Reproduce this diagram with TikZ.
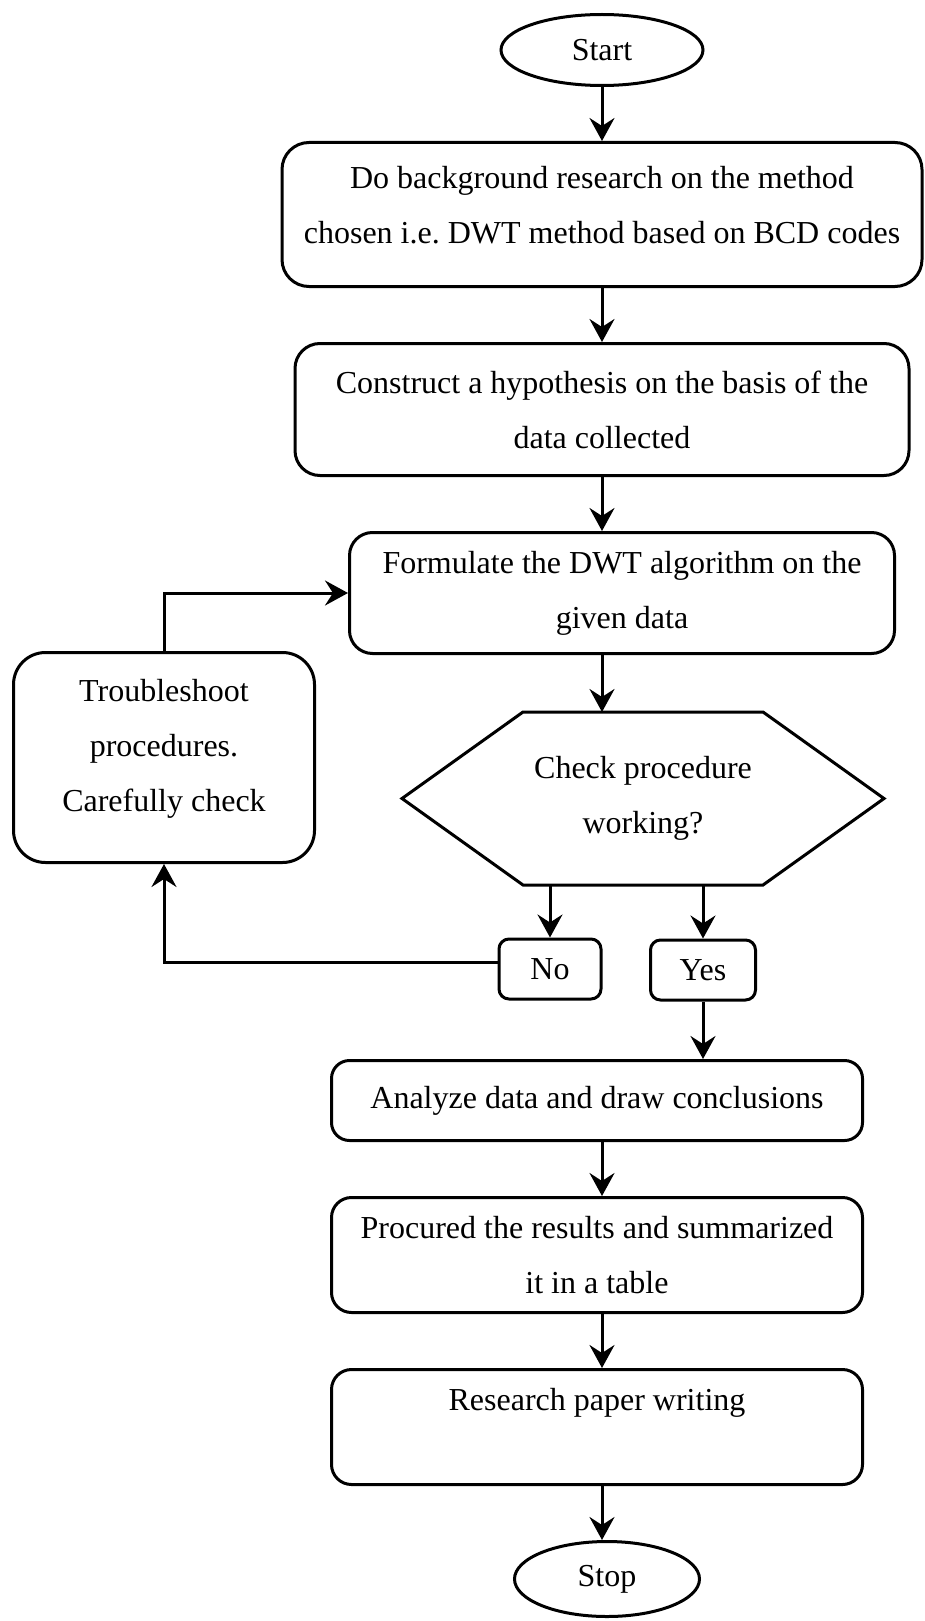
\documentclass[tikz,border=0pt]{standalone}
\usepackage{fontspec}
\setmainfont{Liberation Serif}
\usetikzlibrary{shapes.geometric,arrows.meta,positioning}

\begin{document}
\begin{tikzpicture}[
  x=1pt, y=1pt,
  node distance=54pt,
  line width=3pt,
  font=\fontsize{32}{55}\selectfont,
  block/.style={rectangle, draw, align=center, inner sep=0pt, minimum width=531pt, rounded corners=20pt},
  term/.style={ellipse, draw, inner sep=0pt, minimum width=185pt, minimum height=75pt},
  answer/.style={rectangle, draw, inner sep=0pt, rounded corners=10pt, minimum height=60pt},
  arrow/.style={-{Stealth[length=23pt, width=25pt, inset=8pt]}},
]
  \useasboundingbox (0,0) rectangle (925,-1621);

  % main column
  \node[term, minimum width=202pt, minimum height=71pt] (start) at (602,-50) {Start};
  \node[block, minimum width=640pt, minimum height=144pt, rounded corners=27pt, below=of start] (background) {Do background research on the method\\chosen i.e.\ DWT method based on BCD codes\\[-36pt]\mbox{}};
  \node[block, minimum width=614pt, minimum height=132pt, rounded corners=25pt, below=of background] (hypothesis) {Construct a hypothesis on the basis of the\\data collected};
  \node[block, minimum width=545pt, minimum height=121pt, rounded corners=23pt, below=of hypothesis, xshift=20pt] (formulate) {Formulate the DWT algorithm on the\\given data};
  \node[align=center, outer sep=0pt, minimum width=482pt, minimum height=173pt, below=57pt of formulate, xshift=21pt] (check) {Check procedure\\working?};
  \draw (check.west) -- ([xshift=121pt]check.north west) -- ([xshift=-121pt]check.north east)
    -- (check.east) -- ([xshift=-121pt]check.south east) -- ([xshift=121pt]check.south west) -- cycle;

  % answers and loop back
  \node[answer, minimum width=102pt] (no) at (550,-969) {No};
  \node[answer, minimum width=105pt] (yes) at (703,-970) {Yes};
  \node[block, minimum width=301pt, minimum height=210pt, rounded corners=32pt] (trouble) at (164,-757.5) {Troubleshoot\\procedures.\\Carefully check\\[-30pt]\mbox{}};

  \node[block, minimum height=80pt, rounded corners=18pt] (analyze) at (597,-1100.5) {Analyze data and draw conclusions\\[-49pt]\mbox{}};
  \node[block, minimum height=115pt, below=of analyze] (results) {Procured the results and summarized\\it in a table};
  \node[block, minimum height=115pt, below=of results] (paper) {Research paper writing\\\mbox{}};
  \node[term, below=of paper, xshift=10pt] (stop) {Stop};

  \draw[arrow] (start) -- (background);
  \draw[arrow] (background) -- (hypothesis);
  \draw[arrow] (hypothesis) -- (hypothesis |- formulate.north);
  \draw[arrow] (formulate.south -| hypothesis) -- (hypothesis |- check.north);
  \draw[arrow] (check.south -| no) -- (no);
  \draw[arrow] (check.south -| yes) -- (yes);
  \draw[arrow] ([yshift=7pt]no.west) -| (trouble);
  \draw[arrow] (trouble) |- (formulate);
  \draw[arrow] (yes) -- (yes |- analyze.north);
  \draw[arrow] (analyze.south -| start) -- (start |- results.north);
  \draw[arrow] (results.south -| start) -- (start |- paper.north);
  \draw[arrow] (paper.south -| start) -- (start |- stop.north);
\end{tikzpicture}
\end{document}
